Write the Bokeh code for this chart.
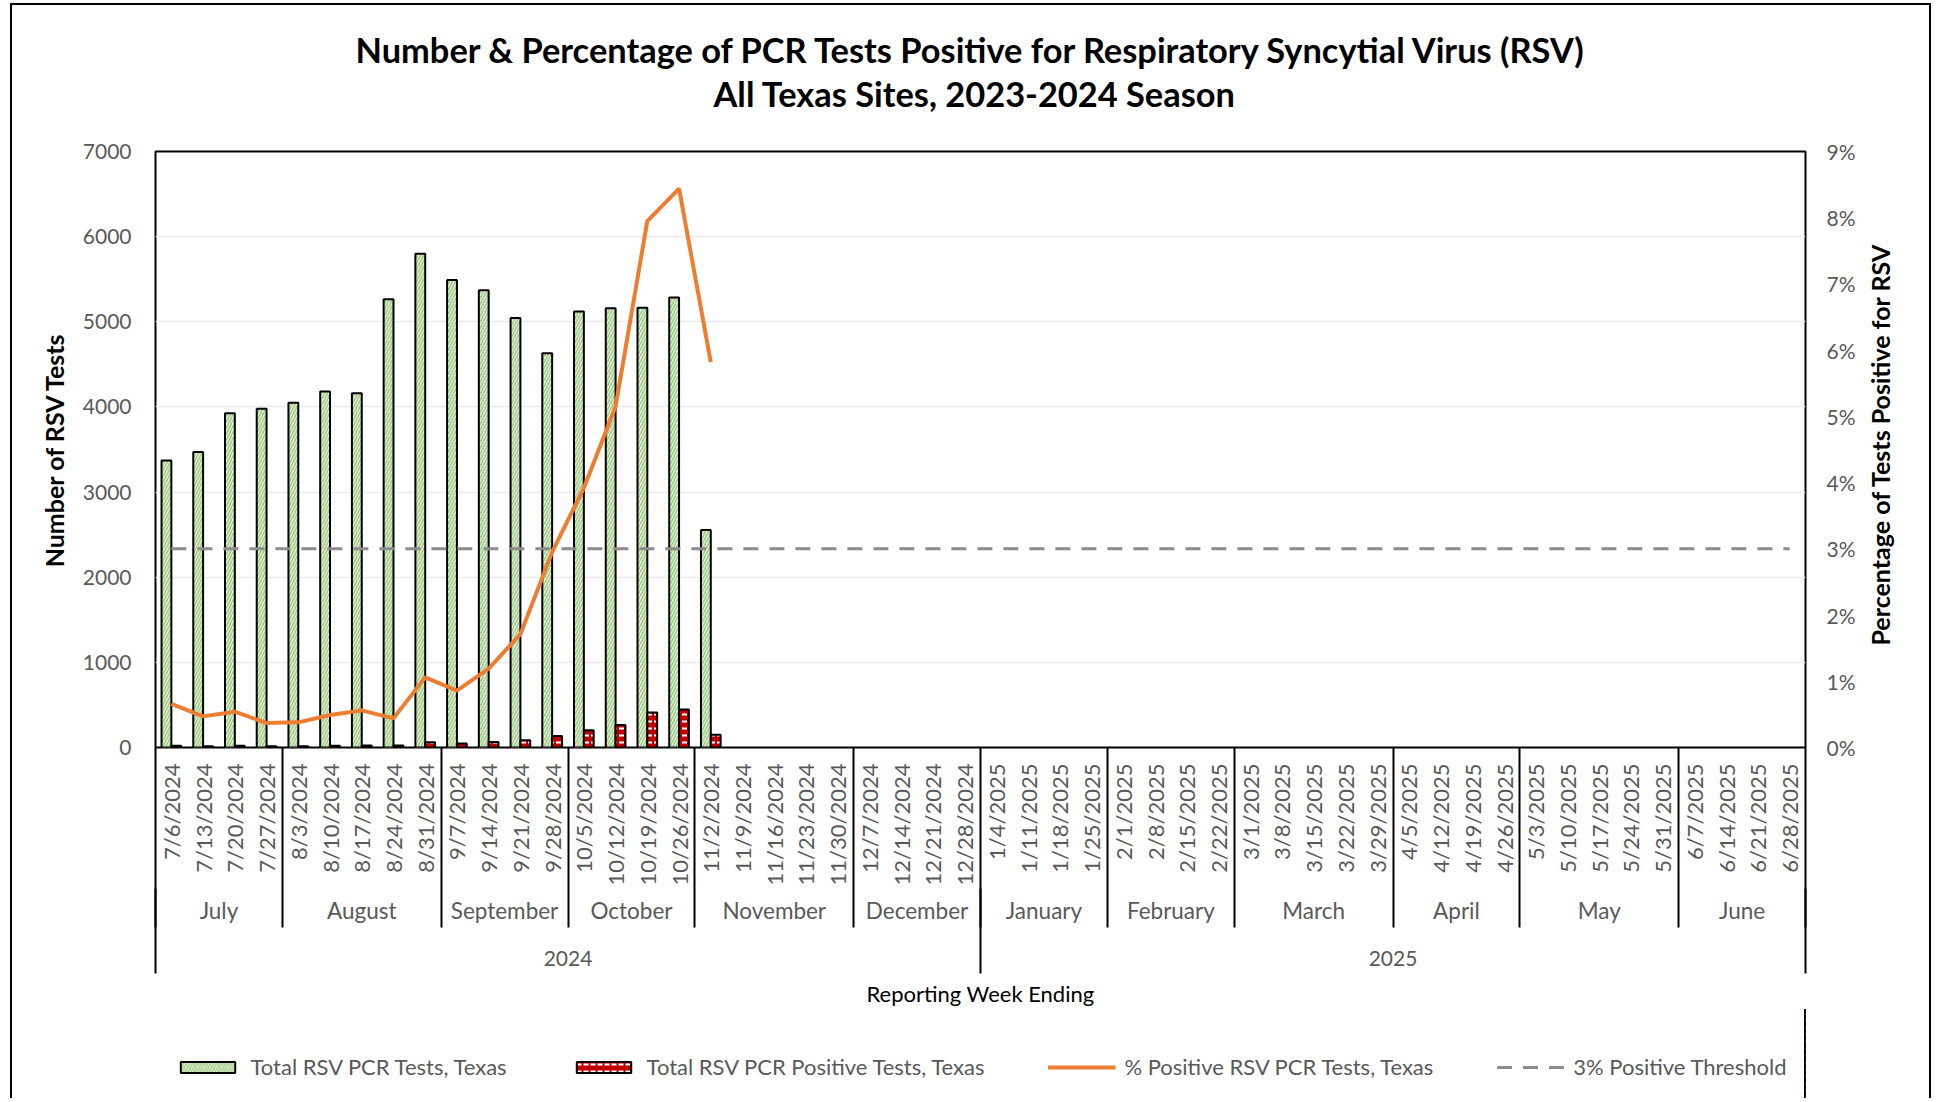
import math
from bokeh.plotting import figure
from bokeh.layouts import column
from bokeh.models import (Range1d, LinearAxis, FixedTicker, PrintfTickFormatter,
                          Legend, LegendItem, Title, ColumnDataSource)
from bokeh.transform import dodge
from bokeh.embed import file_html
from bokeh.resources import INLINE

# ---------------- data ----------------
title_line1 = "Number & Percentage of PCR Tests Positive for Respiratory Syncytial Virus (RSV)"
title_line2 = "All Texas Sites, 2023-2024 Season"

weeks = ["7/6/2024", "7/13/2024", "7/20/2024", "7/27/2024",
         "8/3/2024", "8/10/2024", "8/17/2024", "8/24/2024", "8/31/2024",
         "9/7/2024", "9/14/2024", "9/21/2024", "9/28/2024",
         "10/5/2024", "10/12/2024", "10/19/2024", "10/26/2024",
         "11/2/2024", "11/9/2024", "11/16/2024", "11/23/2024", "11/30/2024",
         "12/7/2024", "12/14/2024", "12/21/2024", "12/28/2024",
         "1/4/2025", "1/11/2025", "1/18/2025", "1/25/2025",
         "2/1/2025", "2/8/2025", "2/15/2025", "2/22/2025",
         "3/1/2025", "3/8/2025", "3/15/2025", "3/22/2025", "3/29/2025",
         "4/5/2025", "4/12/2025", "4/19/2025", "4/26/2025",
         "5/3/2025", "5/10/2025", "5/17/2025", "5/24/2025", "5/31/2025",
         "6/7/2025", "6/14/2025", "6/21/2025", "6/28/2025"]
months = ["July", "August", "September", "October", "November", "December",
          "January", "February", "March", "April", "May", "June"]
weeks_per_month = [4, 5, 4, 4, 5, 4, 4, 4, 5, 4, 5, 4]
years = ["2024", "2025"]
weeks_per_year = [26, 26]

total_tests = [3370, 3470, 3925, 3980, 4050, 4180, 4160, 5265, 5800,
               5490, 5370, 5045, 4630, 5120, 5160, 5165, 5285, 2555]
positive_tests = [22, 16, 21, 15, 15, 20, 23, 23, 62,
                  47, 64, 86, 136, 202, 264, 410, 446, 149]
pct_positive = [0.66, 0.47, 0.54, 0.37, 0.38, 0.49, 0.56, 0.44, 1.06,
                0.86, 1.19, 1.71, 2.95, 3.92, 5.15, 7.95, 8.44, 5.82]
threshold_pct = 3.0

count_ticks = [0, 1000, 2000, 3000, 4000, 5000, 6000, 7000]
pct_ticks = [0, 1, 2, 3, 4, 5, 6, 7, 8, 9]

left_title = "Number of RSV Tests"
right_title = "Percentage of Tests Positive for RSV"
x_title = "Reporting Week Ending"
legend_labels = ["Total RSV PCR Tests, Texas",
                 "Total RSV PCR Positive Tests, Texas",
                 "% Positive RSV PCR Tests, Texas",
                 "3% Positive Threshold"]

# ---------------- styling ----------------
FONT = "Lato"
GRAY = "#595959"
LABEL_SIZE = "21px"
FRAME_W, FRAME_H = 1650, 596
BORDER_L, BORDER_R = 145, 126
RIGHT_TITLE_START = 1.54   # where (in % units) the rotated right title begins

TOT_STYLE = dict(fill_color="white", hatch_pattern="right_diagonal_line", hatch_color="#A9D18E",
                 hatch_weight=2, hatch_scale=6, line_color="black", line_width=2)
POS_STYLE = dict(fill_color="#C00000", hatch_pattern="horizontal_dash", hatch_color="white",
                 hatch_weight=2, hatch_scale=7, line_color="black", line_width=2)
THR_STYLE = dict(line_color="#8C8C8C", line_width=3, line_dash="15 11")
PCT_STYLE = dict(line_color="#ED7D31", line_width=4)


def edges(counts):
    e = [-0.5]
    for c in counts:
        e.append(e[-1] + c)
    return e


month_edges = edges(weeks_per_month)
month_centers = [(a + b) / 2 for a, b in zip(month_edges[:-1], month_edges[1:])]
year_edges = edges(weeks_per_year)
year_centers = [(a + b) / 2 for a, b in zip(year_edges[:-1], year_edges[1:])]

n_weeks = len(weeks)
src = ColumnDataSource(dict(x=list(range(len(total_tests))), total=total_tests,
                            pos=positive_tests, pct=pct_positive))
thr_src = ColumnDataSource(dict(x=list(range(n_weeks)), y=[threshold_pct] * n_weeks))

p = figure(frame_width=FRAME_W, frame_height=FRAME_H,
           x_range=Range1d(-0.5, n_weeks - 0.5),
           y_range=Range1d(count_ticks[0], count_ticks[-1]),
           x_axis_location=None, y_axis_location="left",
           toolbar_location=None, output_backend="svg", title=None,
           min_border_left=BORDER_L, min_border_right=BORDER_R,
           min_border_top=148, min_border_bottom=0)
p.border_fill_color = None
p.background_fill_color = "white"
p.outline_line_color = "black"
p.outline_line_width = 2
p.extra_y_ranges = {"pct": Range1d(pct_ticks[0], pct_ticks[-1])}

# titles (added nearest-first)
p.add_layout(Title(text=title_line2, align="left", offset=558, text_font=FONT,
                   text_font_style="bold", text_font_size="34.4px", text_color="black",
                   standoff=75), "above")
p.add_layout(Title(text=title_line1, align="left", offset=200, text_font=FONT,
                   text_font_style="bold", text_font_size="34.4px", text_color="black",
                   standoff=-72), "above")

# grid
for g in p.xgrid:
    g.visible = False
count_ticker = FixedTicker(ticks=count_ticks)
p.ygrid.ticker = count_ticker
p.ygrid.grid_line_color = "#EBEBEB"
p.ygrid.grid_line_width = 1.5

# left axis
left = p.yaxis[0]
left.ticker = count_ticker
left.major_tick_out = 0
left.major_tick_in = 0
left.minor_tick_line_color = None
left.axis_line_color = None
left.major_label_standoff = 24
left.major_label_text_font = FONT
left.major_label_text_font_size = LABEL_SIZE
left.major_label_text_color = GRAY
left.axis_label = left_title
left.axis_label_text_font = FONT
left.axis_label_text_font_style = "bold"
left.axis_label_text_font_size = "25px"
left.axis_label_text_color = "black"
left.axis_label_standoff = 11

# right axis
right = LinearAxis(y_range_name="pct", ticker=FixedTicker(ticks=pct_ticks),
                   formatter=PrintfTickFormatter(format="%d%%"))
right.major_tick_out = 0
right.major_tick_in = 0
right.minor_tick_line_color = None
right.axis_line_color = None
right.major_label_standoff = 21
right.major_label_text_font = FONT
right.major_label_text_font_size = LABEL_SIZE
right.major_label_text_color = GRAY
p.add_layout(right, "right")

# right axis title: rotated to read bottom-to-top like the reference
right_t = LinearAxis(y_range_name="pct", ticker=FixedTicker(ticks=[RIGHT_TITLE_START]),
                     major_label_overrides={RIGHT_TITLE_START: right_title})
right_t.major_tick_out = 0
right_t.major_tick_in = 0
right_t.major_tick_line_color = None
right_t.minor_tick_line_color = None
right_t.axis_line_color = None
right_t.major_label_orientation = math.pi / 2
right_t.major_label_standoff = 22
right_t.major_label_text_font = FONT
right_t.major_label_text_font_style = "bold"
right_t.major_label_text_font_size = "25px"
right_t.major_label_text_color = "black"
p.add_layout(right_t, "right")


def cat_axis(ticks, labels, minor, minor_len, gap, size, orientation="horizontal"):
    ax = LinearAxis(ticker=FixedTicker(ticks=ticks, minor_ticks=minor),
                    major_label_overrides={t: s for t, s in zip(ticks, labels)})
    ax.major_tick_out = 0
    ax.major_tick_in = 0
    ax.major_tick_line_color = None
    ax.minor_tick_in = 0
    ax.minor_tick_out = minor_len
    ax.minor_tick_line_color = "black"
    ax.minor_tick_line_width = 2
    ax.axis_line_color = None
    # labels are placed after the longest tick, pull them back up to "gap"
    ax.major_label_standoff = gap - minor_len
    ax.major_label_orientation = orientation
    ax.major_label_text_font = FONT
    ax.major_label_text_font_size = size
    ax.major_label_text_color = GRAY
    return ax


ax_weeks = cat_axis(list(range(n_weeks)), weeks, month_edges, 180, 16, "22px", math.pi / 2)
ax_months = cat_axis(month_centers, months, year_edges, 85, 8, "22.5px")
ax_years = cat_axis(year_centers, years, [], 0, 24, LABEL_SIZE)
ax_years.axis_label = x_title
ax_years.axis_label_text_font = FONT
ax_years.axis_label_text_font_style = "normal"
ax_years.axis_label_text_font_size = "22px"
ax_years.axis_label_text_color = "black"
ax_years.axis_label_standoff = 11
p.add_layout(ax_weeks, "below")
p.add_layout(ax_months, "below")
p.add_layout(ax_years, "below")

# glyphs
p.vbar(x=dodge("x", -0.155, range=p.x_range), top="total", width=0.31, source=src, **TOT_STYLE)
p.vbar(x=dodge("x", 0.155, range=p.x_range), top="pos", width=0.31, source=src, **POS_STYLE)
p.line(x="x", y="y", source=thr_src, y_range_name="pct", **THR_STYLE)
p.line(x="x", y="pct", source=src, y_range_name="pct", **PCT_STYLE)

# ---------------- legend strip (aligned to the same frame) ----------------
# same series, viewed through a range that keeps the marks out of sight: only the
# legend swatches of this strip are visible
pl = figure(frame_width=FRAME_W, frame_height=89, x_range=Range1d(-3, -2), y_range=Range1d(0, 1),
            x_axis_location=None, y_axis_location=None, toolbar_location=None,
            output_backend="svg", title=None,
            min_border_left=BORDER_L, min_border_right=BORDER_R,
            min_border_top=0, min_border_bottom=0)
pl.outline_line_color = None
pl.background_fill_color = None
pl.border_fill_color = None
for g in pl.grid:
    g.visible = False
k_tot = pl.vbar(x="x", top="total", width=0.31, source=src, **TOT_STYLE)
k_pos = pl.vbar(x="x", top="pos", width=0.31, source=src, **POS_STYLE)
k_pct = pl.line(x="x", y="pct", source=src, **PCT_STYLE)
k_thr = pl.line(x="x", y="y", source=thr_src, **THR_STYLE)
legend = Legend(items=[LegendItem(label=legend_labels[0], renderers=[k_tot]),
                       LegendItem(label=legend_labels[1], renderers=[k_pos]),
                       LegendItem(label=legend_labels[2], renderers=[k_pct]),
                       LegendItem(label=legend_labels[3], renderers=[k_thr])],
                orientation="horizontal", location="top_center",
                glyph_width=68, glyph_height=14, label_standoff=9, spacing=63,
                padding=0, margin=44, border_line_color=None, background_fill_alpha=0,
                label_text_font=FONT, label_text_font_size="22px",
                label_text_color=GRAY, label_height=24)
pl.add_layout(legend)

layout = column(p, pl, spacing=0,
                styles={"margin-left": "10px", "margin-top": "3px",
                        "box-shadow": "inset 2px 0 0 #000, inset -2px 0 0 #000, inset 0 2px 0 #000"})

open("out.html", "w").write(file_html(layout, INLINE))
